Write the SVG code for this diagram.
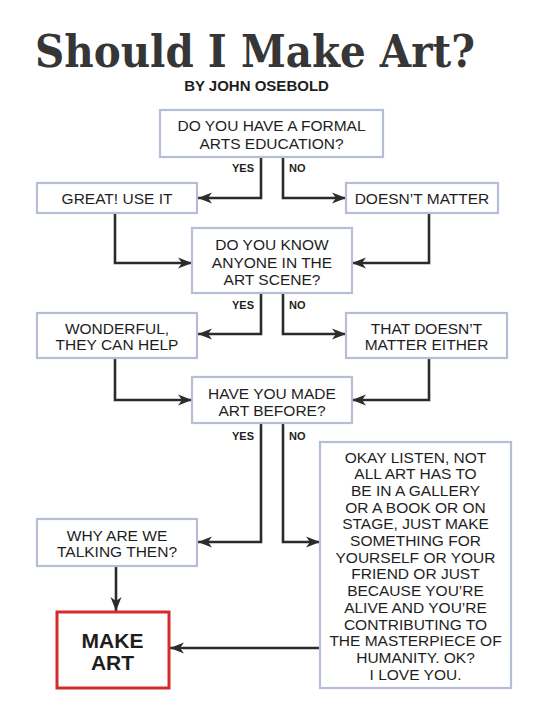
<svg xmlns="http://www.w3.org/2000/svg" width="553" height="723" viewBox="0 0 553 723">
<defs>
<marker id="ah" markerUnits="userSpaceOnUse" markerWidth="16" markerHeight="12" refX="14" refY="6" orient="auto">
<path d="M0,0.5 L14,6 L0,11.5 L4,6 Z" fill="#2b2b2b"/>
</marker>
</defs>
<style>
.box{fill:#fff;stroke:#b6bdd8;stroke-width:2.2}
.t{font-family:"Liberation Sans",Arial,sans-serif;font-size:15.5px;fill:#1e1e1e;text-anchor:middle}
.lbl{font-family:"Liberation Sans",Arial,sans-serif;font-size:11px;font-weight:bold;fill:#1e1e1e}
.c{fill:none;stroke:#2b2b2b;stroke-width:2.6;marker-end:url(#ah)}
</style>
<rect width="553" height="723" fill="#fff"/>
<g id="title">
<text x="255" y="67" font-family="DejaVu Serif,serif" font-weight="bold" font-size="45" fill="#363636" text-anchor="middle" textLength="440" lengthAdjust="spacingAndGlyphs">Should I Make Art?</text>
<text x="256.5" y="91" font-family="Liberation Sans,Arial,sans-serif" font-weight="bold" font-size="15" fill="#1e1e1e" text-anchor="middle">BY JOHN OSEBOLD</text>
</g>
<g id="connectors">
<path class="c" d="M261,157 V198 H198"/>
<path class="c" d="M283,157 V198 H346"/>
<path class="c" d="M115,213 V263 H192"/>
<path class="c" d="M429,213 V263 H352"/>
<path class="c" d="M261,293 V334 H198"/>
<path class="c" d="M283,293 V334 H346"/>
<path class="c" d="M115,358 V400 H192"/>
<path class="c" d="M429,358 V400 H352"/>
<path class="c" d="M261,423 V542 H198"/>
<path class="c" d="M283,423 V542 H320"/>
<path class="c" d="M116,566 V611"/>
<path class="c" d="M320,648 H170"/>
<text class="lbl" x="254" y="172" text-anchor="end">YES</text>
<text class="lbl" x="289" y="172">NO</text>
<text class="lbl" x="254" y="309" text-anchor="end">YES</text>
<text class="lbl" x="289" y="309">NO</text>
<text class="lbl" x="254" y="440" text-anchor="end">YES</text>
<text class="lbl" x="289" y="440">NO</text>
</g>
<g id="q1">
<rect class="box" x="160" y="110" width="223" height="47"/>
<text class="t" x="271.5" y="130.5">DO YOU HAVE A FORMAL</text>
<text class="t" x="271.5" y="148.5">ARTS EDUCATION?</text>
</g>
<g id="great">
<rect class="box" x="37" y="183" width="160" height="30"/>
<text class="t" x="117" y="204">GREAT! USE IT</text>
</g>
<g id="doesnt">
<rect class="box" x="346" y="183" width="152" height="30"/>
<text class="t" x="422" y="204">DOESN’T MATTER</text>
</g>
<g id="q2">
<rect class="box" x="192" y="228" width="160" height="65"/>
<text class="t" x="272" y="250">DO YOU KNOW</text>
<text class="t" x="272" y="267.5">ANYONE IN THE</text>
<text class="t" x="272" y="285">ART SCENE?</text>
</g>
<g id="wonderful">
<rect class="box" x="37" y="313" width="160" height="45"/>
<text class="t" x="117" y="333.5">WONDERFUL,</text>
<text class="t" x="117" y="349.5">THEY CAN HELP</text>
</g>
<g id="either">
<rect class="box" x="346" y="313" width="161" height="45"/>
<text class="t" x="426.5" y="333.5">THAT DOESN’T</text>
<text class="t" x="426.5" y="349.5">MATTER EITHER</text>
</g>
<g id="q3">
<rect class="box" x="192" y="377" width="160" height="46"/>
<text class="t" x="272" y="398.5">HAVE YOU MADE</text>
<text class="t" x="272" y="415.5">ART BEFORE?</text>
</g>
<g id="why">
<rect class="box" x="37" y="519" width="160" height="47"/>
<text class="t" x="117" y="540.5">WHY ARE WE</text>
<text class="t" x="117" y="556.5">TALKING THEN?</text>
</g>
<g id="okay">
<rect class="box" x="320" y="442" width="191" height="246"/>
<text class="t" x="415.5" y="462.5">OKAY LISTEN, NOT</text>
<text class="t" x="415.5" y="479.2">ALL ART HAS TO</text>
<text class="t" x="415.5" y="495.9">BE IN A GALLERY</text>
<text class="t" x="415.5" y="512.6">OR A BOOK OR ON</text>
<text class="t" x="415.5" y="529.3">STAGE, JUST MAKE</text>
<text class="t" x="415.5" y="546">SOMETHING FOR</text>
<text class="t" x="415.5" y="562.7">YOURSELF OR YOUR</text>
<text class="t" x="415.5" y="579.4">FRIEND OR JUST</text>
<text class="t" x="415.5" y="596.1">BECAUSE YOU’RE</text>
<text class="t" x="415.5" y="612.8">ALIVE AND YOU’RE</text>
<text class="t" x="415.5" y="629.5">CONTRIBUTING TO</text>
<text class="t" x="415.5" y="646.2">THE MASTERPIECE OF</text>
<text class="t" x="415.5" y="662.9">HUMANITY. OK?</text>
<text class="t" x="415.5" y="679.6">I LOVE YOU.</text>
</g>
<g id="makeart">
<rect x="57" y="612" width="112" height="76" fill="#fff" stroke="#d42b2b" stroke-width="3"/>
<text x="112.5" y="647.5" font-family="Liberation Sans,Arial,sans-serif" font-weight="bold" font-size="21" fill="#1e1e1e" text-anchor="middle">MAKE</text>
<text x="112.5" y="670" font-family="Liberation Sans,Arial,sans-serif" font-weight="bold" font-size="21" fill="#1e1e1e" text-anchor="middle">ART</text>
</g>
</svg>
